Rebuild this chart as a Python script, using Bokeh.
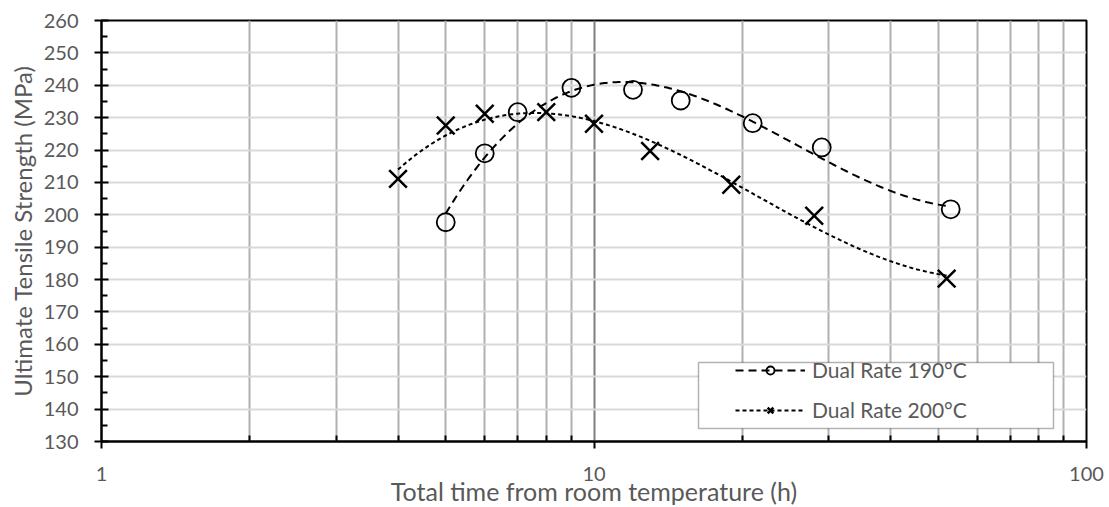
import numpy as np
from bokeh.plotting import figure
from bokeh.models import (Range1d, FixedTicker, PrintfTickFormatter, Legend, LegendItem,
                          BoxAnnotation, Title)
from bokeh.embed import file_html
from bokeh.resources import INLINE

# ---------------- data ----------------
t190 = [5, 6, 7, 9, 12, 15, 21, 29, 53]
uts190 = [197.7, 219.0, 231.7, 239.2, 238.6, 235.3, 228.3, 220.8, 201.7]
t200 = [4, 5, 6, 8, 10, 13, 19, 28, 52]
uts200 = [211.1, 227.6, 231.2, 231.7, 228.1, 219.7, 209.3, 199.7, 180.3]

x_major = [1, 10, 100]
x_minor = [2, 3, 4, 5, 6, 7, 8, 9, 20, 30, 40, 50, 60, 70, 80, 90]
y_major = list(range(130, 261, 10))
y_minor = list(range(135, 260, 10))
series_labels = ["Dual Rate 190°C", "Dual Rate 200°C"]
x_title = "Total time from room temperature (h)"
y_title = "Ultimate Tensile Strength (MPa)"

# ---------------- style ----------------
FONT = "Lato"
TXT = "#595959"
FW, FH = 985, 421
X0, X1, Y0, Y1 = 1, 100, 130, 260

p = figure(width=1109, height=507, frame_width=FW, frame_height=FH,
           x_axis_type="log", x_range=Range1d(X0, X1), y_range=Range1d(Y0, Y1),
           output_backend="svg", toolbar_location=None,
           min_border_left=101, min_border_right=23, min_border_top=20, min_border_bottom=66)
p.background_fill_color = "white"
p.border_fill_color = "white"
p.outline_line_color = "black"
p.outline_line_width = 2

xt = FixedTicker(ticks=x_major, minor_ticks=x_minor)
yt = FixedTicker(ticks=y_major, minor_ticks=y_minor)

xa = p.xaxis[0]
xa.ticker = xt
xa.formatter = PrintfTickFormatter(format="%d")
ya = p.yaxis[0]
ya.ticker = yt

for ax in (xa, ya):
    ax.axis_line_color = "black"
    ax.axis_line_width = 2
    ax.major_tick_line_color = "black"
    ax.major_tick_line_width = 2
    ax.minor_tick_line_color = "black"
    ax.minor_tick_line_width = 2
    ax.major_label_text_font = FONT
    ax.major_label_text_font_size = "20px"
    ax.major_label_text_color = TXT

xa.major_tick_in = 0
xa.major_tick_out = 7
xa.minor_tick_in = 6
xa.minor_tick_out = 0
xa.major_label_standoff = 18

ya.major_tick_in = 7
ya.major_tick_out = 7
ya.minor_tick_in = 6
ya.minor_tick_out = 0
ya.major_label_standoff = 16

xg = p.xgrid[0]
xg.ticker = xt
xg.grid_line_color = "#7f7f7f"
xg.grid_line_width = 2
xg.minor_grid_line_color = "#b0b0b0"
xg.minor_grid_line_width = 2
yg = p.ygrid[0]
yg.ticker = yt
yg.grid_line_color = "#d9d9d9"
yg.grid_line_width = 2

# ---------------- trendlines (cubic fits of the data vs log time) ----------------
def trend(x, y, deg=3):
    u = np.log10(x)
    c = np.polyfit(u, y, deg)
    us = np.linspace(u.min(), u.max(), 300)
    return 10 ** us, np.polyval(c, us)

xs190, ys190 = trend(t190, uts190)
xs200, ys200 = trend(t200, uts200)

s190 = p.scatter(t190, uts190, marker="circle", size=18, fill_color=None,
                 line_color="black", line_width=1.8)
s200 = p.scatter(t200, uts200, marker="x", size=25, line_color="black", line_width=2.5)
l190 = p.line(xs190, ys190, line_color="black", line_width=2, line_dash="8 5")
l200 = p.line(xs200, ys200, line_color="black", line_width=2, line_dash="4 3")

# ---------------- legend ----------------
def fx(px):
    return 10 ** (np.log10(X0) + (np.log10(X1) - np.log10(X0)) * px / FW)

def fy(py):  # py measured from frame top
    return Y1 - (Y1 - Y0) * py / FH

box = BoxAnnotation(left=fx(597), right=fx(952), top=fy(342), bottom=fy(408),
                    fill_color="white", fill_alpha=1, line_color="black", line_width=1.5)
p.add_layout(box)

legend = Legend(items=[LegendItem(label=series_labels[0], renderers=[l190, s190]),
                       LegendItem(label=series_labels[1], renderers=[l200, s200])],
                location=(629, 14), orientation="vertical",
                border_line_alpha=0, background_fill_alpha=0,
                padding=5, spacing=15, label_height=20, glyph_height=20, glyph_width=70,
                label_standoff=7, margin=0,
                label_text_font=FONT, label_text_font_size="21px", label_text_color=TXT)
p.add_layout(legend)

# ---------------- axis titles ----------------
p.add_layout(Title(text=y_title, align="center", standoff=8, text_font=FONT,
                   text_font_size="24px", text_font_style="normal", text_color=TXT), "left")
p.add_layout(Title(text=x_title, align="center", offset=31, standoff=-20, text_font=FONT,
                   text_font_size="25px", text_font_style="normal", text_color=TXT), "below")

open("out.html", "w").write(file_html(p, INLINE))
